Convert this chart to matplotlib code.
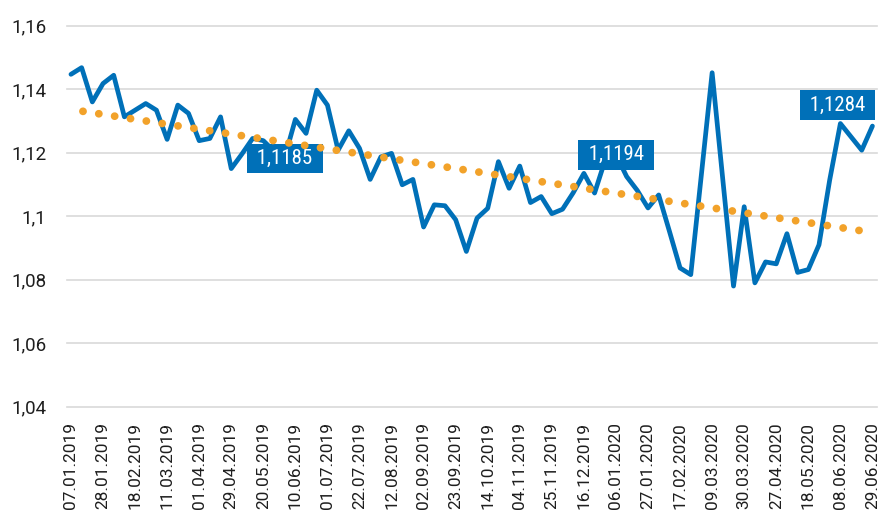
import matplotlib
matplotlib.use('Agg')
import matplotlib.pyplot as plt
import matplotlib.ticker as ticker
import numpy as np

plt.rcParams['font.family'] = ['Roboto', 'DejaVu Sans']

blue = '#0070b8'
orange = '#f2a22a'
grid_color = '#d9d9d9'
text_color = '#1e1e1e'

# weekly EUR/USD, 07.01.2019 .. 29.06.2020 (76 weeks shown)
rates = [
    1.1447, 1.1468, 1.1360, 1.1418, 1.1444, 1.1313, 1.1334, 1.1355, 1.1334, 1.1242,
    1.1350, 1.1324, 1.1238, 1.1245, 1.1313, 1.1150, 1.1196, 1.1245, 1.1238, 1.1205,
    1.1185, 1.1305, 1.1261, 1.1397, 1.1350, 1.1208, 1.1269, 1.1214, 1.1116, 1.1187,
    1.1198, 1.1099, 1.1116, 1.0966, 1.1036, 1.1033, 1.0989, 1.0889, 1.0994, 1.1025,
    1.1172, 1.1088, 1.1158, 1.1043, 1.1062, 1.1008, 1.1022, 1.1074, 1.1135, 1.1073,
    1.1178, 1.1194, 1.1125, 1.1081, 1.1026, 1.1067, 1.0953, 1.0837, 1.0816, 1.1133,
    1.1452, 1.1115, 1.0780, 1.1030, 1.0790, 1.0856, 1.0850, 1.0945, 1.0823, 1.0832,
    1.0910, 1.1114, 1.1292, 1.1250, 1.1208, 1.1284,
]

tick_labels = [
    '07.01.2019', '28.01.2019', '18.02.2019', '11.03.2019', '01.04.2019',
    '29.04.2019', '20.05.2019', '10.06.2019', '01.07.2019', '22.07.2019',
    '12.08.2019', '02.09.2019', '23.09.2019', '14.10.2019', '04.11.2019',
    '25.11.2019', '16.12.2019', '06.01.2020', '27.01.2020', '17.02.2020',
    '09.03.2020', '30.03.2020', '27.04.2020', '18.05.2020', '08.06.2020',
    '29.06.2020',
]
tick_step = 3

y_ticks = [1.04, 1.06, 1.08, 1.1, 1.12, 1.14, 1.16]

# points with a value box, and where the box sits (pixels from the point)
label_points = [20, 51, 75]
label_offsets = [(0, -1), (0, 0), (-35, 21)]


def comma_fmt(value, pos=None):
    return f'{round(value, 2):g}'.replace('.', ',')


x = np.arange(len(rates))
slope, intercept = np.polyfit(x, rates, 1)
trend = slope * x + intercept

fig = plt.figure(figsize=(8.82, 5.15), dpi=100)
ax = fig.add_axes([0.0756, 0.2103, 0.9184, 0.7397])

ax.plot(x, rates, color=blue, lw=3.4, solid_joinstyle='round',
        solid_capstyle='round', zorder=2)
ax.plot(x, trend, color=orange, lw=5.6, linestyle=(0.5, (0.01, 2.05)),
        dash_capstyle='round', zorder=4)

for idx, (dx, dy) in zip(label_points, label_offsets):
    txt = ' ' + f'{rates[idx]:.4f}'.replace('.', ',') + ' '
    ax.annotate(txt, xy=(idx, rates[idx]), xytext=(dx, dy),
                textcoords='offset pixels', ha='center', va='center',
                color='white', fontsize=15,
                family=['Roboto Condensed', 'Liberation Sans Narrow', 'Roboto'],
                bbox=dict(boxstyle='square,pad=0.26', fc=blue, ec='none'),
                zorder=3)

ax.set_xlim(-0.4, len(rates) - 0.6)
ax.set_ylim(y_ticks[0], y_ticks[-1])
ax.set_yticks(y_ticks)
ax.yaxis.set_major_formatter(ticker.FuncFormatter(comma_fmt))
ax.set_xticks(x[::tick_step])
ax.set_xticklabels(tick_labels, rotation=90, fontsize=12.4, color=text_color)
ax.tick_params(axis='x', length=0, pad=11)
ax.tick_params(axis='y', length=0, pad=14.5, labelsize=13.5, labelcolor=text_color)

ax.grid(axis='y', color=grid_color, lw=1.2)
ax.set_axisbelow(True)
for line in ax.get_ygridlines():
    line.set_clip_on(False)
for side in ['top', 'right', 'left', 'bottom']:
    ax.spines[side].set_visible(False)

fig.savefig('out.png', dpi=100)
